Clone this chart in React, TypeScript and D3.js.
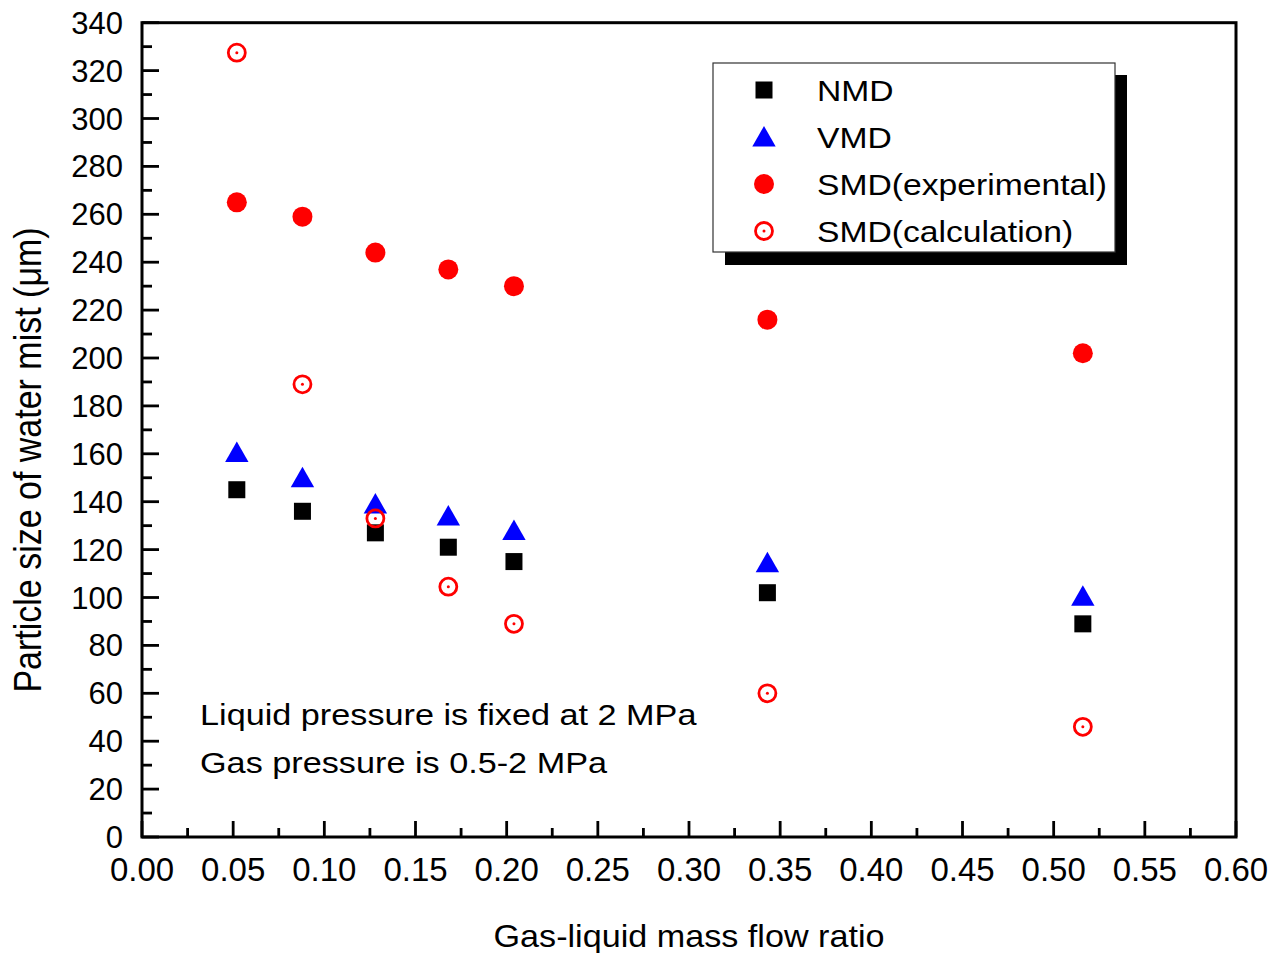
import React from "react";
import * as d3 from "d3";

const ratios = [0.052, 0.088, 0.128, 0.168, 0.204, 0.343, 0.516];
const nmd = [145, 136, 127, 121, 115, 102, 89];
const vmd = [160.5, 150, 139, 134, 128, 114.5, 100.5];
const smdExp = [265, 259, 244, 237, 230, 216, 202];
const smdCalc = [327.5, 189, 133, 104.5, 89, 60, 46];

const xTicks = d3.range(0, 0.6001, 0.05);
const xMinor = d3.range(0.025, 0.6, 0.05);
const yTicks = d3.range(0, 341, 20);
const yMinor = d3.range(10, 340, 20);

const legendItems = ["NMD", "VMD", "SMD(experimental)", "SMD(calculation)"];
const xTitle = "Gas-liquid mass flow ratio";
const yTitle = "Particle size of water mist (\u03bcm)";
const notes = ["Liquid pressure is fixed at 2 MPa", "Gas pressure is 0.5-2 MPa"];

const W = 1287;
const H = 953;
const L = 142, R = 1236, T = 22.7, B = 837;
const FONT = "'Liberation Sans', Arial, Helvetica, sans-serif";

function Marker({ kind, x, y }: { kind: number; x: number; y: number }) {
  if (kind === 0) {
    return <rect x={x - 8.5} y={y - 8.5} width={17} height={17} fill="#000" />;
  }
  if (kind === 1) {
    const tri = d3.line()([
      [x, y - 11],
      [x + 11.7, y + 9.5],
      [x - 11.7, y + 9.5],
    ]) + "Z";
    return <path d={tri} fill="#0000ff" />;
  }
  if (kind === 2) {
    return <circle cx={x} cy={y} r={10} fill="#ff0000" />;
  }
  return (
    <g>
      <circle cx={x} cy={y} r={8.5} fill="none" stroke="#ff0000" strokeWidth={2.8} />
      <circle cx={x} cy={y} r={1.5} fill="#ff0000" />
    </g>
  );
}

export default function App() {
  const x = d3.scaleLinear().domain([0, 0.6]).range([L, R]);
  const y = d3.scaleLinear().domain([0, 340]).range([B, T]);
  const series = [nmd, vmd, smdExp, smdCalc];
  const drawOrder = [2, 1, 0, 3];

  return (
    <svg
      width={W}
      height={H}
      style={{ position: "absolute", left: 0, top: 0, background: "#fff" }}
      fontFamily={FONT}
    >
      <rect x={0} y={0} width={W} height={H} fill="#fff" />

      {/* ticks */}
      {yTicks.map((t) => (
        <line key={"ym" + t} x1={L} x2={L + 17} y1={y(t)} y2={y(t)} stroke="#000" strokeWidth={2.8} />
      ))}
      {yMinor.map((t) => (
        <line key={"yn" + t} x1={L} x2={L + 10} y1={y(t)} y2={y(t)} stroke="#000" strokeWidth={2.8} />
      ))}
      {xTicks.map((t) => (
        <line key={"xm" + t} x1={x(t)} x2={x(t)} y1={B} y2={B - 16} stroke="#000" strokeWidth={2.8} />
      ))}
      {xMinor.map((t) => (
        <line key={"xn" + t} x1={x(t)} x2={x(t)} y1={B} y2={B - 9} stroke="#000" strokeWidth={2.8} />
      ))}

      {/* frame */}
      <rect x={L} y={T} width={R - L} height={B - T} fill="none" stroke="#000" strokeWidth={3} />

      {/* tick labels */}
      {yTicks.map((t) => (
        <text key={"yl" + t} x={L - 19} y={y(t) + 11} fontSize={31} textAnchor="end" fill="#000">
          {t}
        </text>
      ))}
      {xTicks.map((t) => (
        <text key={"xl" + t} x={x(t)} y={881} fontSize={33} textAnchor="middle" fill="#000">
          {d3.format(".2f")(t)}
        </text>
      ))}

      {/* axis titles */}
      <text transform={`translate(689,947) scale(1.12,1)`} fontSize={30.5} textAnchor="middle" fill="#000">
        {xTitle}
      </text>
      <text transform={`translate(41,460) rotate(-90) scale(1,1.12)`} fontSize={34} textAnchor="middle" fill="#000">
        {yTitle}
      </text>

      {/* data */}
      {drawOrder.map((k) =>
        series[k].map((v, i) => <Marker key={k + "-" + i} kind={k} x={x(ratios[i])} y={y(v)} />)
      )}

      {/* notes */}
      {notes.map((n, i) => (
        <text key={n} transform={`translate(200,${725 + i * 48}) scale(1.13,1)`} fontSize={30.3} fill="#000">
          {n}
        </text>
      ))}

      {/* legend */}
      <rect x={725} y={75} width={402} height={190} fill="#000" />
      <rect x={713} y={63} width={402} height={189} fill="#fff" stroke="#333" strokeWidth={1.2} />
      {legendItems.map((name, i) => (
        <g key={name}>
          <Marker kind={i} x={764} y={90 + i * 47} />
          <text transform={`translate(817,${101 + i * 47}) scale(1.13,1)`} fontSize={29.8} fill="#000">
            {name}
          </text>
        </g>
      ))}
    </svg>
  );
}
